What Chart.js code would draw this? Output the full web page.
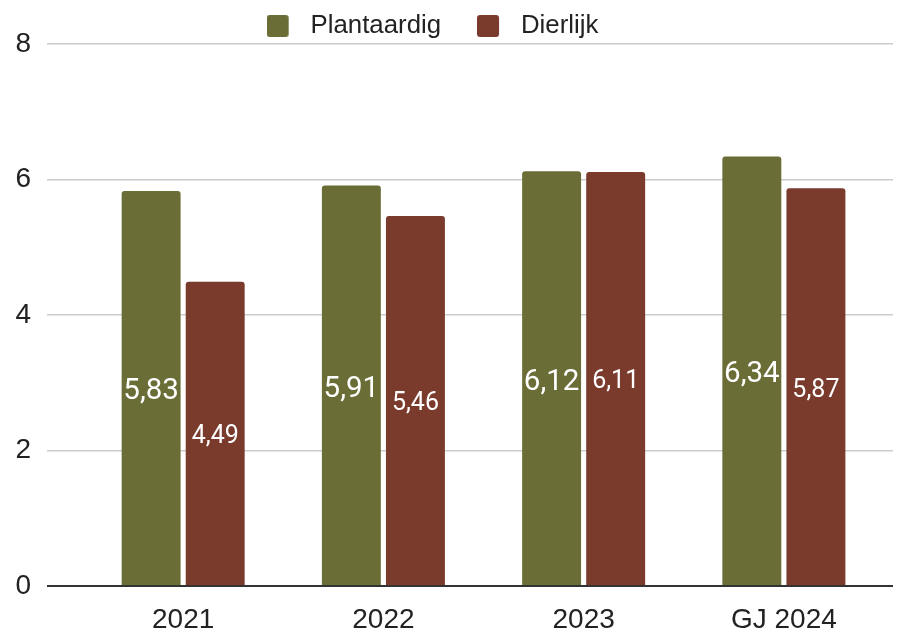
<!DOCTYPE html>
<html lang="nl">
<head>
<meta charset="UTF-8">
<title>Plantaardig vs Dierlijk</title>
<script src="https://cdn.jsdelivr.net/npm/chart.js"></script>
<style>
  html, body { margin: 0; padding: 0; background: #fff; }
  #wrap { width: 913px; height: 634px; }
</style>
</head>
<body>
<div id="wrap"><canvas id="chart" width="913" height="634"></canvas></div>
<script>
const categories = ['2021', '2022', '2023', 'GJ 2024'];
const plantaardig = [5.83, 5.91, 6.12, 6.34];
const dierlijk = [4.49, 5.46, 6.11, 5.87];
const yTicks = [0, 2, 4, 6, 8];

const GREEN = '#6a6e36';
const RED = '#7a3b2d';

function points(values) {
  return values.map((v, i) => ({ x: i, y: v }));
}

// legend marker: 22px rounded square with some room on its right
function marker(color) {
  const c = document.createElement('canvas');
  c.width = 31;
  c.height = 22;
  const g = c.getContext('2d');
  g.fillStyle = color;
  g.beginPath();
  g.roundRect(0, 0, 22, 22, 3);
  g.fill();
  return c;
}

// white value labels in the middle of each bar
const barLabels = {
  id: 'barLabels',
  afterDatasetsDraw(chart) {
    const ctx = chart.ctx;
    ctx.save();
    ctx.fillStyle = '#ffffff';
    ctx.textAlign = 'center';
    ctx.textBaseline = 'alphabetic';
    chart.data.datasets.forEach((ds, di) => {
      const size = di === 0 ? 29.5 : 25;
      ctx.font = size + 'px Roboto';
      chart.getDatasetMeta(di).data.forEach((bar, i) => {
        const txt = ds.data[i].y.toFixed(2).replace('.', ',');
        ctx.fillText(txt, bar.x, (bar.y + bar.base) / 2 + size * 0.355 + 1);
      });
    });
    ctx.restore();
  }
};

// fixed legend height so the plot starts where the reference does,
// and the legend sits a bit left of centre like the reference
const legendPlace = {
  id: 'legendPlace',
  beforeInit(chart) {
    const fit = chart.legend.fit;
    chart.legend.fit = function () {
      fit.bind(chart.legend)();
      this.height = 66.9;
    };
  },
  afterLayout(chart) {
    chart.legend.left -= 14;
    chart.legend.right -= 14;
  }
};

const markers = [marker(GREEN), marker(RED)];

new Chart(document.getElementById('chart'), {
  type: 'bar',
  data: {
    datasets: [
      {
        label: 'Plantaardig',
        data: points(plantaardig),
        backgroundColor: GREEN,
        borderRadius: { topLeft: 3, topRight: 3 },
        borderSkipped: 'start',
        categoryPercentage: 0.64,
        barPercentage: 0.92
      },
      {
        label: 'Dierlijk',
        data: points(dierlijk),
        backgroundColor: RED,
        borderRadius: { topLeft: 3, topRight: 3 },
        borderSkipped: 'start',
        categoryPercentage: 0.64,
        barPercentage: 0.92
      }
    ]
  },
  options: {
    responsive: false,
    animation: false,
    layout: { padding: { left: 0, right: 20, top: -22.9, bottom: 0 } },
    plugins: {
      tooltip: { enabled: false },
      legend: {
        position: 'top',
        labels: {
          usePointStyle: true,
          pointStyleWidth: 31,
          boxHeight: 22,
          padding: 36,
          color: '#222',
          font: { family: 'Liberation Sans', size: 25.8 },
          generateLabels(chart) {
            return Chart.defaults.plugins.legend.labels.generateLabels(chart)
              .map((item, i) => Object.assign(item, { pointStyle: markers[i] }));
          }
        }
      }
    },
    scales: {
      x: {
        type: 'linear',
        offset: false,
        min: -0.68,
        max: 3.545,
        grid: { display: false },
        border: { display: false },
        afterBuildTicks(axis) {
          axis.ticks = categories.map((_, i) => ({ value: i }));
        },
        afterFit(axis) { axis.height = 48; },
        ticks: {
          color: '#222',
          padding: 9,
          maxRotation: 0,
          font: { family: 'Liberation Sans', size: 28 },
          callback: v => categories[v]
        }
      },
      y: {
        min: 0,
        max: 8,
        afterBuildTicks(axis) {
          axis.ticks = yTicks.map(v => ({ value: v }));
        },
        afterFit(axis) { axis.width = 47; },
        border: { display: false },
        grid: {
          drawTicks: false,
          color: c => c.tick.value === 0 ? '#333333' : '#cccccc',
          lineWidth: c => c.tick.value === 0 ? 2 : 1.5
        },
        ticks: {
          color: '#222',
          padding: 16,
          font: { family: 'Liberation Sans', size: 28 }
        }
      }
    }
  },
  plugins: [barLabels, legendPlace]
});
</script>
</body>
</html>
